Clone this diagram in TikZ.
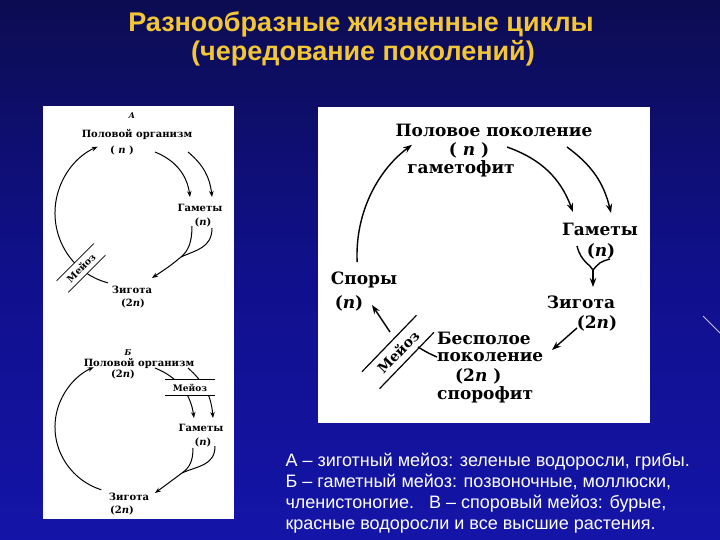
\documentclass[tikz,border=0pt]{standalone}
\usepackage{fontspec}
\setmainfont{Liberation Sans}
\newfontfamily\scanfont{DejaVu Serif}
\usetikzlibrary{arrows.meta}

\definecolor{slidetop}{RGB}{12,12,82}
\definecolor{slidemid}{RGB}{16,16,140}
\definecolor{slidebot}{RGB}{20,20,168}
\definecolor{titleyellow}{RGB}{242,198,52}
\definecolor{lavender}{RGB}{200,190,255}

\tikzset{
  lbl/.style={font=\scanfont\bfseries\fontsize{10}{11}\selectfont, inner sep=0pt},
  biglbl/.style={font=\scanfont\bfseries\fontsize{17}{18}\selectfont, inner sep=0pt},
  cyc/.style={line width=1pt, -{Stealth[length=6pt,width=4.5pt]}},
  cycR/.style={line width=1.4pt, -{Stealth[length=9pt,width=6.5pt]}},
  note/.style={anchor=base west, text=white, font=\fontsize{18}{20}\selectfont},
}

\begin{document}
\begin{tikzpicture}[x=1pt,y=1pt]
    % slide background
    \shade[top color=slidetop, bottom color=slidebot, middle color=slidemid] (0,0) rectangle (720,-540);
    \useasboundingbox (0,0) rectangle (720,-540);
    \draw[line width=1pt, lavender] (703,-316) -- (720,-333);

    % title
    \node[anchor=base, text=titleyellow, font=\bfseries\fontsize{27}{29}\selectfont] (title1) at (361,-32) {Разнообразные жизненные циклы};
    \node[anchor=base, text=titleyellow, font=\bfseries\fontsize{27}{29}\selectfont] (title2) at (363,-61) {(чередование поколений)};

    % white panels
    \fill[white] (43,-106) rectangle (234,-519);
    \fill[white] (318,-107) rectangle (650,-423);

    % ---- A: zygotic meiosis ----
    \node[lbl, font=\scanfont\bfseries\itshape\fontsize{8}{9}\selectfont] (labA) at (132,-116) {А};
    \node[lbl] (orgA) at (137,-134) {Половой организм};
    \node[lbl] (orgAn) at (122,-150) {( \textit{n} )};
    \node[lbl] (gamA) at (200,-208) {Гаметы};
    \node[lbl] (gamAn) at (203,-222) {(\textit{n})};
    \node[lbl] (zygA) at (132,-290) {Зигота};
    \node[lbl] (zygAn) at (133,-303) {(2\textit{n})};

    \coordinate (cA) at (125,-213);
    \draw[cyc] (cA) ++(256:70 and 72) arc[start angle=256, end angle=113, x radius=70, y radius=72];
    \node[lbl, font=\scanfont\bfseries\fontsize{9.5}{10}\selectfont, rotate=45, fill=white,
          minimum width=52pt, minimum height=16pt] (meiA) at (81,-268) {Мейоз};
    \draw[line width=0.8pt] (meiA.north west) -- (meiA.north east);
    \draw[line width=0.8pt] (meiA.south west) -- (meiA.south east);

    \coordinate (a1s) at (155,-152);
    \coordinate (a1e) at (190,-197);
    \coordinate (a2s) at (188,-152);
    \coordinate (a2e) at (212,-197);
    \draw[cyc] (a1s) to[bend left=30] (a1e);
    \draw[cyc] (a2s) to[bend left=22] (a2e);

    \coordinate (gAl) at (192,-226);
    \coordinate (gAr) at (212,-228);
    \coordinate (mA) at (181,-257);
    \coordinate (tA) at (152,-278);
    \draw[line width=1pt] (gAr) .. controls (212,-248) and (196,-250) .. (mA);
    \draw[cyc] (gAl) .. controls (192,-243) and (188,-251) .. (mA) .. controls (170,-266) .. (tA);

    % ---- B: gametic meiosis ----
    \node[lbl, font=\scanfont\bfseries\itshape\fontsize{8}{9}\selectfont] (labB) at (128,-353) {Б};
    \node[lbl] (orgB) at (139,-363) {Половой организм};
    \node[lbl] (orgBn) at (123,-374) {(2\textit{n})};
    \node[lbl] (gamB) at (201,-428) {Гаметы};
    \node[lbl] (gamBn) at (203,-442) {(\textit{n})};
    \node[lbl] (zygB) at (129,-497) {Зигота};
    \node[lbl] (zygBn) at (122,-510) {(2\textit{n})};

    \coordinate (cB) at (122,-427);
    \draw[cyc] (cB) ++(252:67 and 66) arc[start angle=252, end angle=115, x radius=67, y radius=66];

    \coordinate (b1s) at (155,-368);
    \coordinate (b1e) at (194,-418);
    \coordinate (b2s) at (188,-368);
    \coordinate (b2e) at (213,-418);
    \draw[cyc] (b1s) to[bend left=30] (b1e);
    \draw[cyc] (b2s) to[bend left=22] (b2e);
    \node[lbl, font=\scanfont\bfseries\fontsize{9}{10}\selectfont, fill=white,
          minimum width=50pt, minimum height=15pt] (meiB) at (190,-387.5) {Мейоз};
    \draw[line width=0.8pt] (meiB.north west) -- (meiB.north east);
    \draw[line width=0.8pt] (meiB.south west) -- (meiB.south east);

    \coordinate (gBl) at (193,-448);
    \coordinate (gBr) at (215,-446);
    \coordinate (mB) at (182,-473);
    \coordinate (tB) at (155,-493);
    \draw[line width=1pt] (gBr) .. controls (215,-466) and (197,-466) .. (mB);
    \draw[cyc] (gBl) .. controls (193,-462) and (189,-468) .. (mB) .. controls (170,-482) .. (tB);

    % ---- C: sporic meiosis ----
    \node[biglbl] (genS) at (494,-130) {Половое поколение};
    \node[biglbl] (genSn) at (469,-150) {( \textit{n} )};
    \node[biglbl] (gameto) at (461,-169) {гаметофит};
    \node[biglbl] (gamR) at (600,-229) {Гаметы};
    \node[biglbl] (gamRn) at (601,-251) {(\textit{n})};
    \node[biglbl] (zygR) at (581,-302) {Зигота};
    \node[biglbl] (zygRn) at (597,-323) {(2\textit{n})};
    \node[biglbl] (spor) at (364,-280) {Споры};
    \node[biglbl] (sporn) at (349,-303) {(\textit{n})};
    \node[biglbl, anchor=west] (asex1) at (437,-338) {Бесполое};
    \node[biglbl, anchor=west] (asex2) at (437,-357) {поколение};
    \node[biglbl, anchor=west] (asexn) at (455,-376) {(2\textit{n} )};
    \node[biglbl, anchor=west] (sporo) at (437,-395) {спорофит};

    \coordinate (cR) at (495,-255);
    \draw[cycR] (cR) ++(183:138) arc[start angle=183, end angle=127, radius=138];

    \coordinate (r1s) at (507,-147);
    \coordinate (r1e) at (573,-212);
    \coordinate (r2s) at (567,-147);
    \coordinate (r2e) at (611,-213);
    \draw[cycR] (r1s) to[bend left=25] (r1e);
    \draw[cycR] (r2s) to[bend left=20] (r2e);

    \coordinate (gRl) at (577,-246);
    \coordinate (gRr) at (610,-259);
    \coordinate (mR) at (593,-270);
    \coordinate (tR) at (593,-287);
    \draw[line width=1.4pt] (gRl) .. controls (581,-262) and (590,-264) .. (mR);
    \draw[line width=1.4pt] (gRr) .. controls (600,-262) .. (mR);
    \draw[cycR] (mR) -- (tR);

    \coordinate (zs) at (577,-328);
    \coordinate (ze) at (552,-350);
    \draw[cycR] (zs) -- (ze);

    \node[biglbl, font=\scanfont\bfseries\fontsize{14}{15}\selectfont, rotate=46,
          minimum width=78pt, minimum height=24pt] (meiR) at (398,-352) {Мейоз};
    \draw[line width=1.2pt] (meiR.north west) -- (meiR.north east);
    \draw[line width=1.2pt] (meiR.south west) -- (meiR.south east);
    \coordinate (mRin) at (418,-347);
    \coordinate (mRout) at (390,-332);
    \coordinate (tS) at (372,-305);
    \draw[line width=1.4pt] (asex2.west) .. controls (428,-353) .. (mRin);
    \draw[cycR] (mRout) -- (tS);

    % explanation
    \node[note] (note1) at (282,-466) {А – зиготный мейоз: зеленые водоросли, грибы.};
    \node[note] (note2) at (282,-487) {Б – гаметный мейоз: позвоночные, моллюски,};
    \node[note] (note3) at (282,-508) {членистоногие.\ \ \ В – споровый мейоз: бурые,};
    \node[note] (note4) at (282,-529) {красные водоросли и все высшие растения.};
\end{tikzpicture}
\end{document}
